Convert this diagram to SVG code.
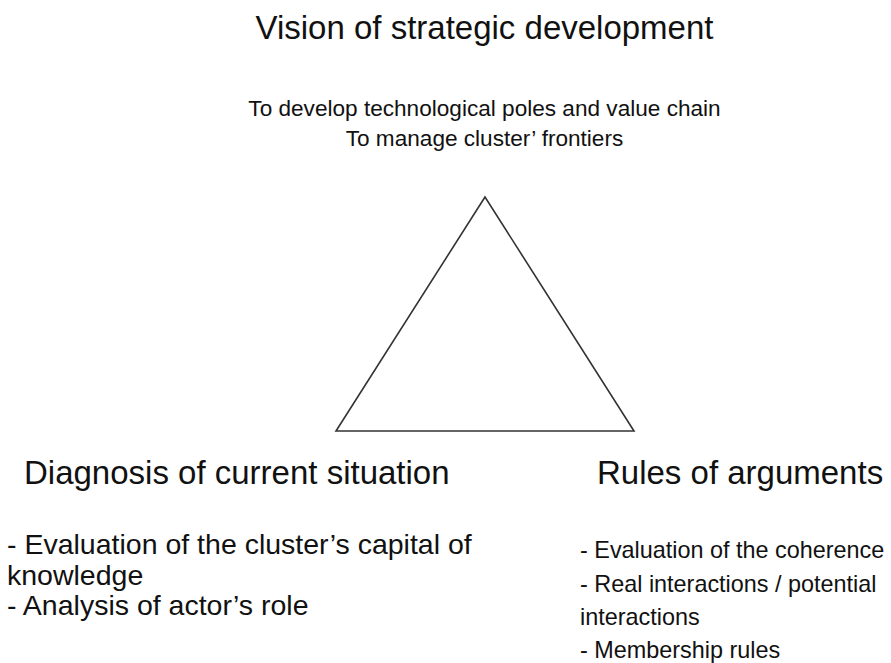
<svg xmlns="http://www.w3.org/2000/svg" width="891" height="663" viewBox="0 0 891 663">
<style>
text{font-family:"Liberation Sans",Arial,Helvetica,sans-serif;fill:#111}
.h{font-size:33px}
.s{font-size:22.6px}
.bl{font-size:28.5px}
.br{font-size:23.4px}
</style>
<rect width="891" height="663" fill="#fff"/>
<g id="vision">
<text class="h" x="484.5" y="39" text-anchor="middle">Vision of strategic development</text>
<text class="s" x="484.5" y="116" text-anchor="middle">To develop technological poles and value chain</text>
<text class="s" x="484.5" y="146" text-anchor="middle">To manage cluster’ frontiers</text>
</g>
<g id="connectors">
<polygon points="485,197 336,431 634,431" fill="none" stroke="#333" stroke-width="1.6" stroke-linejoin="miter"/>
</g>
<g id="diagnosis">
<text class="h" x="24" y="484">Diagnosis of current situation</text>
<text class="bl" x="7" y="554">- Evaluation of the cluster’s capital of</text>
<text class="bl" x="7" y="585">knowledge</text>
<text class="bl" x="7" y="615">- Analysis of actor’s role</text>
</g>
<g id="rules">
<text class="h" x="597" y="484">Rules of arguments</text>
<text class="br" x="580" y="558">- Evaluation of the coherence</text>
<text class="br" x="580" y="592">- Real interactions / potential</text>
<text class="br" x="580" y="625">interactions</text>
<text class="br" x="580" y="658">- Membership rules</text>
</g>
</svg>
